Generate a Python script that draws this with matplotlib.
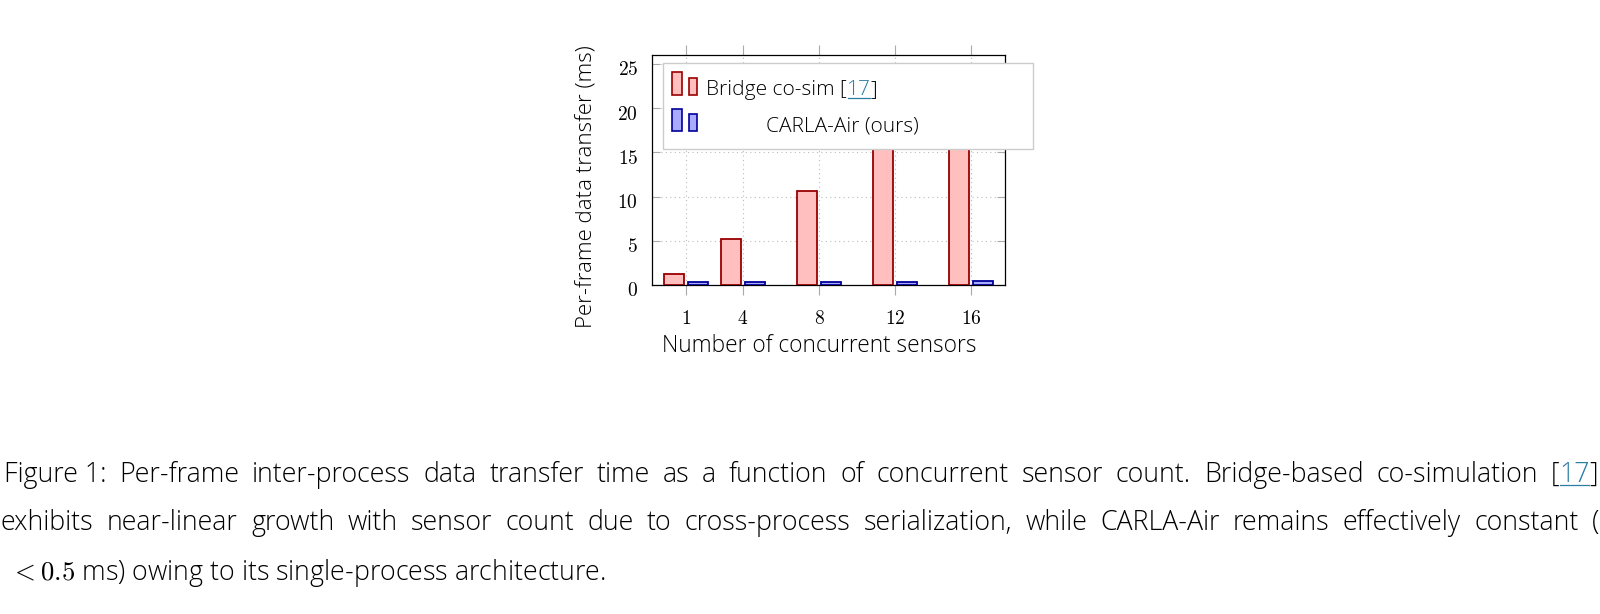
import matplotlib
matplotlib.use("Agg")
import matplotlib.pyplot as plt
import matplotlib.transforms as mtransforms
from matplotlib.patches import Rectangle
from matplotlib.lines import Line2D
from matplotlib.ticker import FuncFormatter

#Data
sensors = [1, 4, 8, 12, 16]
bridge_ms = [1.3, 5.2, 10.6, 16.0, 21.3]
carla_ms = [0.3, 0.3, 0.3, 0.35, 0.45]
y_ticks = [0, 5, 10, 15, 20, 25]

W, H = 1600, 614
SANS = "Open Sans"
WEIGHT = "light"
RED_EDGE, RED_FILL = "#990000", "#ffbfbf"
BLUE_EDGE, BLUE_FILL = "#000099", "#aaaaff"
LINK = "#2b7fa3"

plt.rcParams["mathtext.fontset"] = "cm"

def fx(x):
    return x / W

def fy(y):
    #pixel from top -> figure fraction
    return 1 - y / H

fig = plt.figure(figsize=(16, 6.14), dpi=100)
ax = fig.add_axes([fx(652), fy(285), fx(1005 - 652), (285 - 55) / H])
renderer = fig.canvas.get_renderer()

off = 0.65
bw = 1.05
ax.bar([s - off for s in sensors], bridge_ms, width=bw, color=RED_FILL,
       edgecolor=RED_EDGE, linewidth=1.3, zorder=3)
ax.bar([s + off for s in sensors], carla_ms, width=bw, color=BLUE_FILL,
       edgecolor=BLUE_EDGE, linewidth=1.3, zorder=3)

ax.set_xlim(-0.79, 17.79)
ax.set_ylim(0, 26)
ax.set_xticks(sensors)
ax.set_yticks(y_ticks)
fmt = FuncFormatter(lambda v, p: f"${v:g}$")
ax.xaxis.set_major_formatter(fmt)
ax.yaxis.set_major_formatter(fmt)
ax.grid(True, linestyle=(0, (1, 3)), color="#bbbbbb", linewidth=0.8, zorder=0)
ax.set_axisbelow(True)
ax.tick_params(axis="x", direction="out", top=True, bottom=True, length=7.5,
               width=0.8, color="#aaaaaa", pad=10, labelsize=14)
ax.tick_params(axis="y", direction="in", left=True, right=True, length=6,
               width=0.8, color="#aaaaaa", pad=10, labelsize=14)
for sp in ax.spines.values():
    sp.set_linewidth(0.9)
#pgfplots puts the y labels a bit low
shift = mtransforms.ScaledTranslation(0, -4 / 100, fig.dpi_scale_trans)
for lab in ax.get_yticklabels():
    lab.set_transform(lab.get_transform() + shift)

fig.text(fx(587), fy(187), "Per-frame data transfer (ms)", rotation=90,
         ha="center", va="center", fontsize=16, family=SANS, weight=WEIGHT)
fig.text(fx(819), fy(351.5), "Number of concurrent sensors", ha="center",
         va="baseline", fontsize=16.3, family=SANS, weight=WEIGHT)

def word_width(runs, size):
    w = 0
    for txt, col, ul in runs:
        t = fig.text(0, 0, txt, fontsize=size, family=SANS, weight=WEIGHT)
        w += t.get_window_extent(renderer).width
        t.remove()
    return w

def put_runs(x, base, runs, size):
    for txt, col, ul in runs:
        t = fig.text(fx(x), fy(base), txt, fontsize=size, family=SANS,
                     weight=WEIGHT, color=col, ha="left", va="baseline",
                     zorder=8)
        w = t.get_window_extent(renderer).width
        if ul:
            fig.add_artist(Line2D([fx(x + 1), fx(x + w - 1)],
                                  [fy(base + 2.5), fy(base + 2.5)],
                                  color=col, linewidth=0.9, zorder=8))
        x += w
    return x

#legend (drawn by hand, pgfplots style)
fig.add_artist(Rectangle((fx(663), fy(149)), fx(1033 - 663), (149 - 63) / H,
                         transform=fig.transFigure, facecolor="white",
                         edgecolor="#cccccc", linewidth=1.0, zorder=5))
for (x0, x1, y0, y1), fc, ec in [
        ((672, 682, 72, 95), RED_FILL, RED_EDGE),
        ((689, 697, 78, 95), RED_FILL, RED_EDGE),
        ((672, 682, 109, 131), BLUE_FILL, BLUE_EDGE),
        ((689, 697, 114, 131), BLUE_FILL, BLUE_EDGE)]:
    fig.add_artist(Rectangle((fx(x0), fy(y1)), fx(x1 - x0), (y1 - y0) / H,
                             transform=fig.transFigure, facecolor=fc,
                             edgecolor=ec, linewidth=1.2, zorder=6))
leg_size = 15
put_runs(706, 95, [("Bridge co-sim [", "black", False), ("17", LINK, True),
                   ("]", "black", False)], leg_size)
put_runs(766, 131.5, [("CARLA-Air (ours)", "black", False)], leg_size)

#caption
cap_size = 19.3
K = "black"
line1 = [[("Figure 1:", K, False)]] + [[(w, K, False)] for w in
         "Per-frame inter-process data transfer time as a function of concurrent sensor count. Bridge-based co-simulation".split()] \
        + [[("[", K, False), ("17", LINK, True), ("]", K, False)]]
line2 = [[(w, K, False)] for w in
         "exhibits near-linear growth with sensor count due to cross-process serialization, while CARLA-Air remains effectively constant (".split()]

def justify(words, x0, x1, base):
    widths = [word_width(wd, cap_size) for wd in words]
    gap = (x1 - x0 - sum(widths)) / (len(words) - 1)
    x = x0
    for wd, w in zip(words, widths):
        put_runs(x, base, wd, cap_size)
        x += w + gap

justify(line1, 4, 1598, 482)
justify(line2, 1, 1599, 530)
put_runs(10, 580, [("$<0.5$ ms) owing to its single-process architecture.", K, False)], cap_size)

fig.savefig("out.png", dpi=100)
